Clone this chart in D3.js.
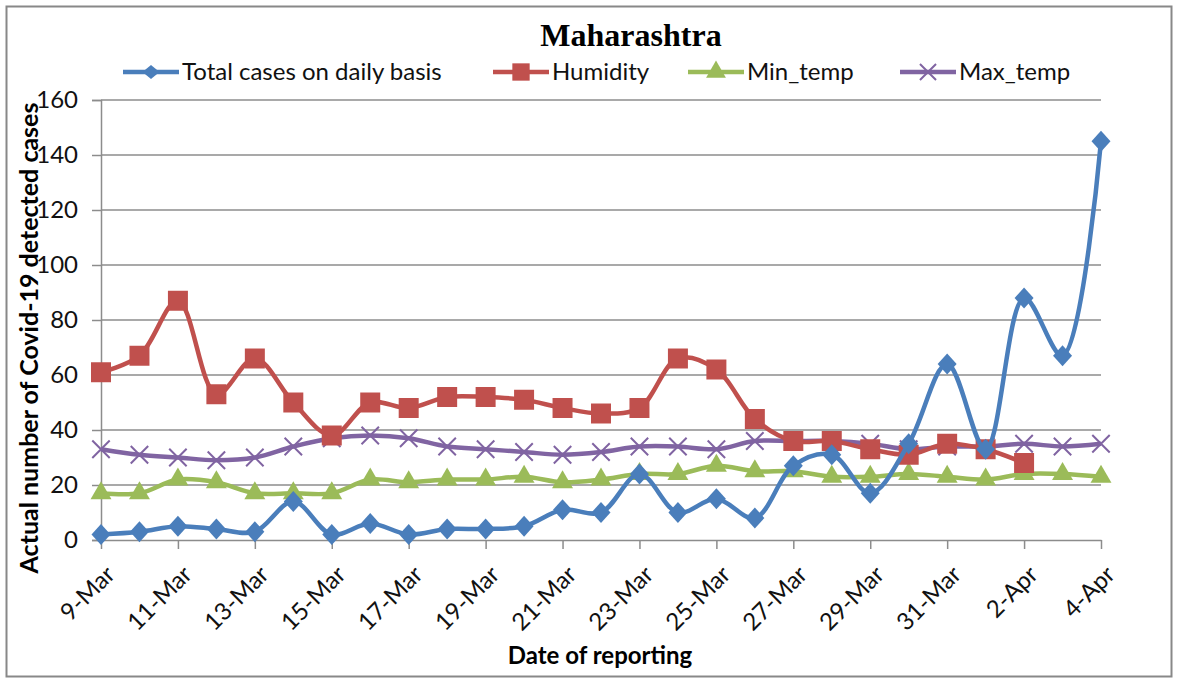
<!DOCTYPE html>
<meta charset="utf-8">
<style>
body { margin: 0; background: #fff; }
.axis-label { font-family: Lato, "Liberation Sans", sans-serif; font-size: 24px; fill: #111; }
.axis-title { font-family: Lato, "Liberation Sans", sans-serif; font-size: 24px; font-weight: bold; fill: #000; }
.legend-text { font-family: Lato, "Liberation Sans", sans-serif; font-size: 24px; fill: #111; }
.g-hed { font-family: "Liberation Serif", "Times New Roman", serif; font-size: 32px; font-weight: bold; }
</style>
<body>
<div class="g-chart"></div>
<script src="https://cdnjs.cloudflare.com/ajax/libs/d3/7.8.5/d3.min.js"></script>
<script>

// categories
var dates = ["9-Mar","10-Mar","11-Mar","12-Mar","13-Mar","14-Mar","15-Mar","16-Mar","17-Mar","18-Mar",
  "19-Mar","20-Mar","21-Mar","22-Mar","23-Mar","24-Mar","25-Mar","26-Mar","27-Mar","28-Mar",
  "29-Mar","30-Mar","31-Mar","1-Apr","2-Apr","3-Apr","4-Apr"];

// series values
var totalCases = [2,3,5,4,3,14,2,6,2,4,4,5,11,10,24,10,15,8,27,31,17,35,64,33,88,67,145];
var humidity   = [61,67,87,53,66,50,38,50,48,52,52,51,48,46,48,66,62,44,36,36,33,31,35,33,28];
var minTemp    = [17,17,22,21,17,17,17,22,21,22,22,23,21,22,24,24,27,25,25,23,23,24,23,22,24,24,23];
var maxTemp    = [33,31,30,29,30,34,37,38,37,34,33,32,31,32,34,34,33,36,36,36,35,33,34,34,35,34,35];

// tick labels
var yTicks = [0,20,40,60,80,100,120,140,160];
var xTickLabels = ["9-Mar","11-Mar","13-Mar","15-Mar","17-Mar","19-Mar","21-Mar","23-Mar",
  "25-Mar","27-Mar","29-Mar","31-Mar","2-Apr","4-Apr"];

var series = [
  {name: "Total cases on daily basis", values: totalCases, color: "#4a7ebb", marker: "diamond"},
  {name: "Humidity", values: humidity, color: "#c0504d", marker: "square"},
  {name: "Min_temp", values: minTemp, color: "#9bbb59", marker: "triangle"},
  {name: "Max_temp", values: maxTemp, color: "#8064a2", marker: "cross"}
];

var W = 1178, H = 681;
var margin = {top: 100, left: 101, right: 77, bottom: 141};

var svg = d3.select(".g-chart").append("svg")
  .attr("width", W).attr("height", H);

// outer frame
svg.append("rect")
  .attr("x", 6.5).attr("y", 6.5)
  .attr("width", W - 13).attr("height", H - 11)
  .attr("fill", "#fff").attr("stroke", "#888").attr("stroke-width", 2);

var x = d3.scalePoint().domain(dates).range([margin.left, W - margin.right]);
var y = d3.scaleLinear().domain([0, 160]).range([H - margin.bottom, margin.top]);

// gridlines
svg.append("g").selectAll("line")
  .data(yTicks.slice(1))
  .enter().append("line")
  .attr("x1", margin.left).attr("x2", W - margin.right)
  .attr("y1", function(d) { return y(d); }).attr("y2", function(d) { return y(d); })
  .attr("stroke", "#8c8c8c").attr("stroke-width", 1.5);

// y axis
var yAxis = d3.axisLeft(y).tickValues(yTicks).tickSize(9).tickPadding(14);
var gy = svg.append("g").attr("transform", "translate(" + margin.left + ",0)").call(yAxis);
gy.select(".domain").attr("stroke", "#8c8c8c").attr("stroke-width", 1.5);
gy.selectAll(".tick line").attr("stroke", "#8c8c8c").attr("stroke-width", 1.5);
gy.selectAll(".tick text").attr("class", "axis-label").attr("font-size", null).attr("font-family", null);

// x axis
var xAxis = d3.axisBottom(x).tickValues(xTickLabels).tickSize(9).tickSizeOuter(0);
var gx = svg.append("g").attr("transform", "translate(0," + y(0) + ")").call(xAxis);
gx.select(".domain").attr("stroke", "#8c8c8c").attr("stroke-width", 1.5);
gx.selectAll(".tick line").attr("stroke", "#8c8c8c").attr("stroke-width", 1.5);
gx.selectAll(".tick text")
  .attr("class", "axis-label").attr("font-size", null).attr("font-family", null)
  .attr("text-anchor", "end")
  .attr("transform", "translate(9,30) rotate(-45)")
  .attr("x", 0).attr("y", 0).attr("dy", "0.35em");

// lines
var line = d3.line()
  .x(function(d, i) { return x(dates[i]); })
  .y(function(d) { return y(d); })
  .curve(d3.curveCatmullRom.alpha(0.5));

// rotated-square diamond like Excel's marker
function diamond(w, h) {
  return "M0," + (-h) + "L" + w + ",0L0," + h + "L" + (-w) + ",0Z";
}

var symbols = {
  diamond: function() { return diamond(9.5, 10.5); },
  square: d3.symbol().type(d3.symbolSquare).size(400),
  triangle: d3.symbol().type(d3.symbolTriangle).size(190),
  cross: d3.symbol().type(d3.symbolX).size(200)
};
var legendSymbols = {
  diamond: function() { return diamond(8.5, 7); },
  square: d3.symbol().type(d3.symbolSquare).size(300),
  triangle: d3.symbol().type(d3.symbolTriangle).size(170),
  cross: d3.symbol().type(d3.symbolX).size(170)
};

// draw in reverse so blue ends on top like the original
series.slice().reverse().forEach(function(s) {
  var g = svg.append("g");
  g.append("path")
    .attr("d", line(s.values))
    .attr("fill", "none").attr("stroke", s.color).attr("stroke-width", 4.5)
    .attr("stroke-linejoin", "round");
  g.selectAll("path.m")
    .data(s.values)
    .enter().append("path")
    .attr("class", "m")
    .attr("transform", function(d, i) { return "translate(" + x(dates[i]) + "," + y(d) + ")"; })
    .attr("d", symbols[s.marker])
    .attr("fill", s.marker == "cross" ? "none" : s.color)
    .attr("stroke", s.color)
    .attr("stroke-width", s.marker == "cross" ? 2 : 0);
});

// title
svg.append("text").attr("class", "g-hed")
  .attr("x", 631).attr("y", 46).attr("text-anchor", "middle")
  .text("Maharashtra");

// legend
var legendX = [123, 493, 688, 900];
var lg = svg.append("g").selectAll("g")
  .data(series)
  .enter().append("g")
  .attr("transform", function(d, i) { return "translate(" + legendX[i] + ",72)"; });
lg.append("line").attr("x1", 0).attr("x2", 56)
  .attr("stroke", function(d) { return d.color; }).attr("stroke-width", 4.5);
lg.append("path")
  .attr("transform", "translate(28,0)")
  .attr("d", function(d) { return legendSymbols[d.marker](); })
  .attr("fill", function(d) { return d.marker == "cross" ? "none" : d.color; })
  .attr("stroke", function(d) { return d.color; })
  .attr("stroke-width", function(d) { return d.marker == "cross" ? 2 : 0; });
lg.append("text").attr("class", "legend-text")
  .attr("x", 59).attr("dy", "0.35em")
  .text(function(d) { return d.name; });

// axis titles
svg.append("text").attr("class", "axis-title")
  .attr("transform", "translate(38,338) rotate(-90)")
  .attr("text-anchor", "middle")
  .style("font-size", "25px")
  .text("Actual number of Covid-19 detected cases");

svg.append("text").attr("class", "axis-title")
  .attr("x", 600).attr("y", 664).attr("text-anchor", "middle")
  .text("Date of reporting");

</script>
</body>
